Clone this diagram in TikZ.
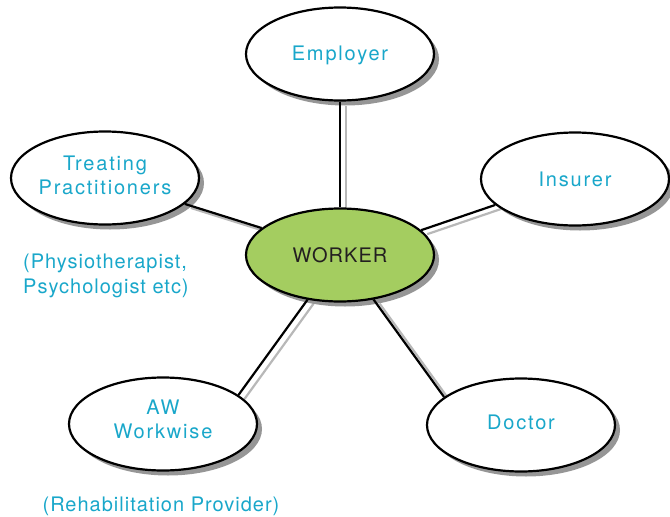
\documentclass[tikz,border=0pt]{standalone}
\usepackage{fontspec}
\setmainfont{TeX Gyre Heros}
\newfontfamily\lblfont[LetterSpace=9]{TeX Gyre Heros}
\newfontfamily\subfont[LetterSpace=5]{TeX Gyre Heros}
\usetikzlibrary{shapes.geometric,shadows,backgrounds}
\definecolor{labcyan}{RGB}{25,167,202}
\definecolor{workgreen}{RGB}{164,205,96}
\definecolor{darktext}{RGB}{35,31,32}
\definecolor{shadowgray}{RGB}{150,150,150}
\begin{document}
\begin{tikzpicture}[x=1pt,y=-1pt,
  bubble/.style={ellipse,draw=black,line width=2.2pt,fill=white,
    minimum width=188pt,minimum height=93pt,inner sep=0pt,align=center,
    font=\lblfont\fontsize{20}{24}\selectfont,text=labcyan,
    drop shadow={shadow xshift=5pt,shadow yshift=-5pt,fill=shadowgray,opacity=1,draw=none}},
  hub/.style={bubble,fill=workgreen,text=darktext,
    font=\subfont\fontsize{20}{24}\selectfont},
  link/.style={line width=2.2pt,draw=black},
  linkshadow/.style={line width=2.2pt,draw=black!28},
  note/.style={font=\subfont\fontsize{20}{25}\selectfont,text=labcyan,
    inner sep=0pt,align=left}]
\useasboundingbox (0,0) rectangle (670,517);
\node[hub] (w) at (340,255) {WORKER};
\node[bubble,text height=17pt] (emp) at (340,54) {Employer};
\node[bubble,text depth=6pt] (tp) at (105,178) {Treating\\Practitioners};
\node[bubble] (ins) at (575,179) {Insurer};
\node[bubble,text depth=10pt] (aw) at (163,424) {AW\\Workwise};
\node[bubble,text depth=6pt] (doc) at (521,425) {Doctor};
\node[note,anchor=north west] (tpnote) at (23,254) {(Physiotherapist,\\Psychologist etc)};
\node[note] (awnote) at (161,506) {(Rehabilitation Provider)};
\begin{scope}[on background layer]
  \foreach \a/\b in {emp.south/w.north, tp.-18/w.161, w.17.5/ins.198, w.234/aw.21, w.307/doc.160.5}
    \draw[linkshadow] ([xshift=6pt,yshift=-4pt]\a) -- ([xshift=6pt,yshift=-4pt]\b);
\end{scope}
\foreach \a/\b in {emp.south/w.north, tp.-18/w.161, w.17.5/ins.198, w.234/aw.21, w.307/doc.160.5}
  \draw[link] (\a) -- (\b);
\end{tikzpicture}
\end{document}
